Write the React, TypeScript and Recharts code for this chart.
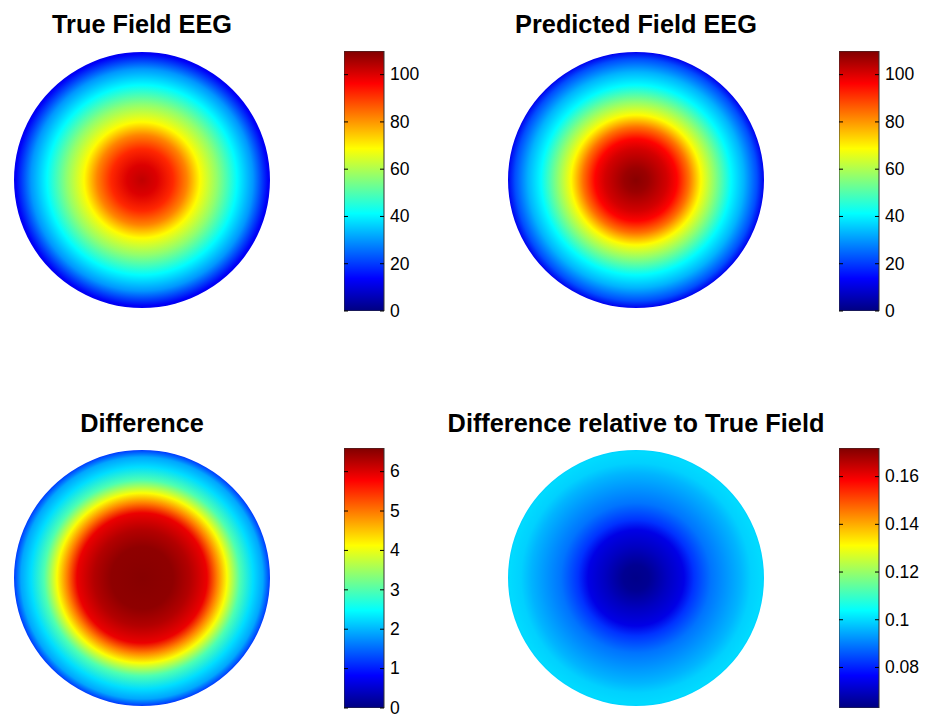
import React from 'react';
import { PieChart, Pie, BarChart, Bar, XAxis, YAxis } from 'recharts';

// Radial field profiles: distance from the disc centre (px, disc radius 128)
// and the field value found at that distance.
const trueRadius = [0, 15, 31, 45, 58, 75, 95, 111, 126, 128];
const trueValues = [103, 100, 92, 82, 69, 57, 41, 30, 13, 12];

const predRadius = [0, 12, 31, 41, 53, 65, 78, 95, 108, 121, 128];
const predValues = [109, 107, 101, 96, 84, 69, 57, 41, 33, 22, 12];

const diffRadius = [0, 31, 48, 65, 75, 85, 98, 111, 121, 126, 128];
const diffValues = [6.55, 6.5, 6.27, 5.9, 4.95, 4.1, 2.97, 2.26, 1.9, 1.4, 1.2];

const relRadius = [0, 13, 31, 48, 58, 75, 92, 105, 115, 126, 128];
const relValues = [0.064, 0.065, 0.07, 0.074, 0.082, 0.089, 0.093, 0.096, 0.099, 0.1, 0.099];

// Colour limits and colorbar ticks
const fieldRange: [number, number] = [0, 110];
const diffRange: [number, number] = [0, 6.6];
const relRange: [number, number] = [0.063, 0.172];

const fieldTicks = [0, 20, 40, 60, 80, 100];
const diffTicks = [0, 1, 2, 3, 4, 5, 6];
const relTicks = [0.08, 0.1, 0.12, 0.14, 0.16];

const titles = [
  'True Field EEG',
  'Predicted Field EEG',
  'Difference',
  'Difference relative to True Field',
];

const FONT = '"Liberation Sans", Arial, Helvetica, sans-serif';
const DISC_R = 128;
const BAR_W = 40;
const AXIS_W = 50;

// MATLAB-style jet colormap, f in [0, 1]
function jet(f: number): string {
  const c = (x: number) => Math.round(255 * Math.max(0, Math.min(1, x)));
  const r = c(1.5 - Math.abs(4 * f - 3));
  const g = c(1.5 - Math.abs(4 * f - 2));
  const b = c(1.5 - Math.abs(4 * f - 1));
  return `rgb(${r},${g},${b})`;
}

const JET_KNOTS = [0, 0.125, 0.375, 0.625, 0.875, 1];

type PanelProps = {
  id: string;
  title: string;
  cx: number;
  cy: number;
  titleY: number;
  radius: number[];
  values: number[];
  range: [number, number];
  ticks: number[];
  barX: number;
  barTop: number;
  barH: number;
};

const ColorbarTick = (props: any) => {
  const { x, y, payload } = props;
  return (
    <g>
      <line x1={x - 4} x2={x} y1={y} y2={y} stroke="#000" strokeWidth={1} />
      <line x1={x - BAR_W} x2={x - BAR_W + 4} y1={y} y2={y} stroke="#000" strokeWidth={1} />
      <text
        x={x + 6}
        y={y}
        dy="0.33em"
        textAnchor="start"
        fontSize={17.5}
        fontFamily={FONT}
        fill="#000"
      >
        {String(payload.value)}
      </text>
    </g>
  );
};

function Panel(p: PanelProps) {
  const [lo, hi] = p.range;
  const norm = (v: number) => (v - lo) / (hi - lo);
  const size = 2 * DISC_R + 8;
  const disc = [{ name: p.id, value: 1 }];
  const bar = [{ name: 'cb', span: [lo, hi] }];
  const pad = 12;

  return (
    <>
      <div style={{ position: 'absolute', left: p.cx - size / 2, top: p.cy - size / 2 }}>
        <PieChart width={size} height={size} margin={{ top: 0, right: 0, bottom: 0, left: 0 }}>
          <defs>
            <radialGradient id={`disc-${p.id}`} cx="50%" cy="50%" r="50%">
              {p.radius.map((r, i) => (
                <stop key={i} offset={r / DISC_R} stopColor={jet(norm(p.values[i]))} />
              ))}
            </radialGradient>
          </defs>
          <Pie
            data={disc}
            dataKey="value"
            cx={size / 2}
            cy={size / 2}
            innerRadius={0}
            outerRadius={DISC_R}
            startAngle={90}
            endAngle={450}
            stroke="none"
            fill={`url(#disc-${p.id})`}
            isAnimationActive={false}
            label={false}
            labelLine={false}
          />
        </PieChart>
      </div>
      <div style={{ position: 'absolute', left: p.barX, top: p.barTop - pad }}>
        <BarChart
          width={BAR_W + AXIS_W}
          height={p.barH + 2 * pad}
          data={bar}
          margin={{ top: pad, right: 0, bottom: pad, left: 0 }}
          barCategoryGap={0}
          barGap={0}
        >
          <defs>
            <linearGradient id={`cb-${p.id}`} x1="0" y1="1" x2="0" y2="0">
              {JET_KNOTS.map((k) => (
                <stop key={k} offset={k} stopColor={jet(k)} />
              ))}
            </linearGradient>
          </defs>
          <XAxis dataKey="name" hide />
          <YAxis
            orientation="right"
            type="number"
            domain={p.range}
            ticks={p.ticks}
            interval={0}
            width={AXIS_W}
            tickLine={false}
            axisLine={false}
            tickSize={0}
            tickMargin={0}
            tick={<ColorbarTick />}
            allowDataOverflow
          />
          <Bar
            dataKey="span"
            fill={`url(#cb-${p.id})`}
            stroke="#333"
            strokeWidth={1}
            isAnimationActive={false}
          />
        </BarChart>
      </div>
      <svg
        width={925}
        height={718}
        style={{ position: 'absolute', left: 0, top: 0, pointerEvents: 'none' }}
      >
        <text
          x={p.cx}
          y={p.titleY}
          textAnchor="middle"
          fontSize={25.3}
          fontWeight="bold"
          fontFamily={FONT}
          fill="#000"
        >
          {p.title}
        </text>
      </svg>
    </>
  );
}

export default function App() {
  return (
    <div
      style={{
        position: 'absolute',
        left: 0,
        top: 0,
        width: 925,
        height: 718,
        background: '#fff',
        overflow: 'hidden',
      }}
    >
      <Panel
        id="true"
        title={titles[0]}
        cx={142}
        cy={180}
        titleY={33}
        radius={trueRadius}
        values={trueValues}
        range={fieldRange}
        ticks={fieldTicks}
        barX={344}
        barTop={51}
        barH={260}
      />
      <Panel
        id="pred"
        title={titles[1]}
        cx={636}
        cy={180}
        titleY={33}
        radius={predRadius}
        values={predValues}
        range={fieldRange}
        ticks={fieldTicks}
        barX={839}
        barTop={51}
        barH={260}
      />
      <Panel
        id="diff"
        title={titles[2]}
        cx={142}
        cy={578}
        titleY={432}
        radius={diffRadius}
        values={diffValues}
        range={diffRange}
        ticks={diffTicks}
        barX={344}
        barTop={448}
        barH={260}
      />
      <Panel
        id="rel"
        title={titles[3]}
        cx={636}
        cy={578}
        titleY={432}
        radius={relRadius}
        values={relValues}
        range={relRange}
        ticks={relTicks}
        barX={839}
        barTop={448}
        barH={260}
      />
    </div>
  );
}
